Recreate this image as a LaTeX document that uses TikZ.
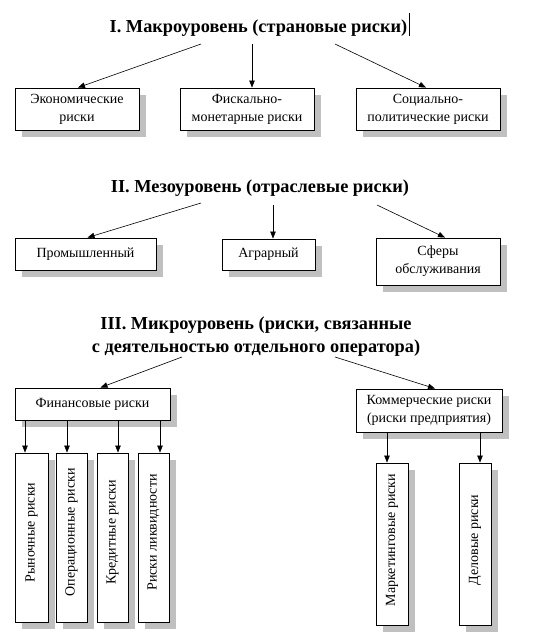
\documentclass[tikz,border=0pt]{standalone}
\usepackage{fontspec}
\setmainfont{Liberation Serif}
\usetikzlibrary{arrows.meta,shadows,calc}
\definecolor{shadowgray}{RGB}{192,192,192}
\begin{document}
\begin{tikzpicture}[x=1pt,y=-1pt,
  box/.style={draw, line width=0.9pt, fill=white, inner sep=0pt, align=center,
    font=\fontsize{14}{18}\selectfont,
    general shadow={fill=shadowgray, shadow xshift=7pt, shadow yshift=-7pt}},
  ttl/.style={font=\fontsize{18.3}{23}\selectfont\bfseries, inner sep=0pt, align=center},
  arr/.style={line width=0.6pt, -{Triangle[length=7pt,width=5.5pt]}},
  vtxt/.style={rotate=90, inner sep=0pt, font=\fontsize{14}{18}\selectfont}]
\useasboundingbox (0,0) rectangle (544,641);
% Level I
\node[ttl, anchor=base] (t1) at (258.5,32) {I. Макроуровень (страновые риски)};
\draw[line width=0.5pt] (409,13) -- (409,36);
\node[box, minimum width=124, minimum height=42] (eco) at (77,109) {Экономические\\риски};
\node[box, minimum width=134, minimum height=42] (fis) at (247,109) {Фискально-\\монетарные риски};
\node[box, minimum width=144, minimum height=42] (soc) at (428,109) {Социально-\\политические риски};
\coordinate (s1a) at (201,44);
\coordinate (s1b) at (252,44);
\coordinate (s1c) at (335,44);
\draw[arr] (s1a) -- ([xshift=1pt]eco.north);
\draw[arr] (s1b) -- (s1b |- fis.north);
\draw[arr] (s1c) -- ([xshift=-2pt]soc.north);
% Level II
\node[ttl, anchor=base] (t2) at (260,192) {II. Мезоуровень (отраслевые риски)};
\node[box, minimum width=141, minimum height=32] (prom) at (85.5,254) {Промышленный};
\node[box, minimum width=93, minimum height=31] (agr) at (268.5,254.5) {Аграрный};
\node[box, minimum width=124, minimum height=47] (sfe) at (438,261.5) {Сферы\\обслуживания};
\coordinate (s2a) at (201,203);
\coordinate (s2b) at (273,205);
\coordinate (s2c) at (377,205);
\draw[arr] (s2a) -- ([xshift=2pt]prom.north);
\draw[arr] (s2b) -- (s2b |- agr.north);
\draw[arr] (s2c) -- ([xshift=7pt]sfe.north);
% Level III
\node[ttl] (t3) at (256,337) {III. Микроуровень (риски, связанные\\с деятельностью отдельного оператора)};
\node[box, minimum width=155, minimum height=32] (fin) at (92.5,404) {Финансовые риски};
\node[box, minimum width=146, minimum height=43] (kom) at (429,410.5) {Коммерческие риски\\(риски предприятия)};
\coordinate (s3a) at (182,357);
\coordinate (s3b) at (335,357);
\draw[arr] (s3a) -- ([xshift=8pt]fin.north);
\draw[arr] (s3b) -- ([xshift=6pt]kom.north);
% vertical boxes
\node[box, minimum width=33, minimum height=169] (r1) at (31.5,537.5) {};
\node[box, minimum width=31, minimum height=169] (r2) at (71.5,537.5) {};
\node[box, minimum width=31, minimum height=169] (r3) at (112.5,537.5) {};
\node[box, minimum width=31, minimum height=169] (r4) at (153.5,537.5) {};
\node[box, minimum width=32, minimum height=162] (m1) at (392,544) {};
\node[box, minimum width=32, minimum height=162] (m2) at (475,544) {};
\node[vtxt] at ([yshift=5pt]r1.center) {Рыночные риски};
\node[vtxt] at ([yshift=5pt]r2.center) {Операционные риски};
\node[vtxt] at ([yshift=5pt]r3.center) {Кредитные риски};
\node[vtxt] at ([yshift=5pt]r4.center) {Риски ликвидности};
\node[vtxt] at ([yshift=4pt]m1.center) {Маркетинговые риски};
\node[vtxt] at ([yshift=4pt]m2.center) {Деловые риски};
\draw[arr] ([xshift=-6.5pt]r1.north |- fin.south) -- ([xshift=-6.5pt]r1.north);
\draw[arr] ([xshift=-4.5pt]r2.north |- fin.south) -- ([xshift=-4.5pt]r2.north);
\draw[arr] ([xshift=5.5pt]r3.north |- fin.south) -- ([xshift=5.5pt]r3.north);
\draw[arr] ([xshift=6.5pt]r4.north |- fin.south) -- ([xshift=6.5pt]r4.north);
\draw[arr] ([xshift=-5pt]m1.north |- kom.south) -- ([xshift=-5pt]m1.north);
\draw[arr] ([xshift=5pt]m2.north |- kom.south) -- ([xshift=5pt]m2.north);
\end{tikzpicture}
\end{document}
